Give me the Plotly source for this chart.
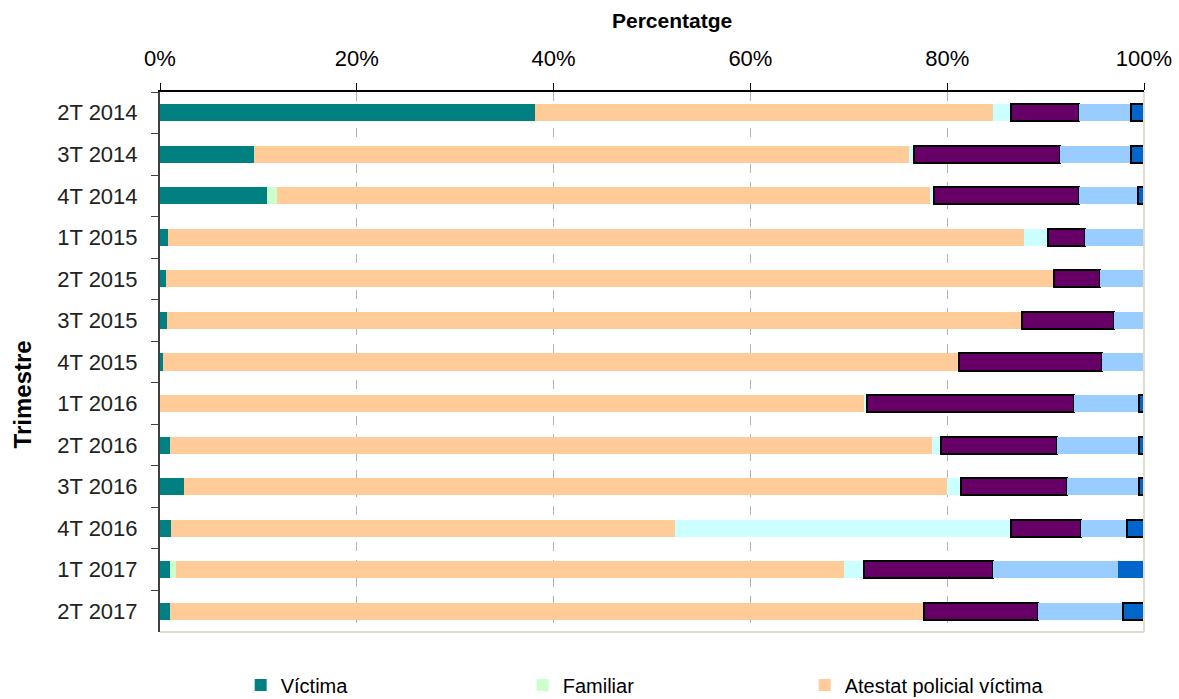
import plotly.graph_objects as go

# trimestres (de dalt a baix)
trimestres = ['2T 2014', '3T 2014', '4T 2014', '1T 2015', '2T 2015', '3T 2015', '4T 2015',
              '1T 2016', '2T 2016', '3T 2016', '4T 2016', '1T 2017', '2T 2017']

# percentatges per origen (llegits del gràfic)
victima = [38.1, 9.6, 10.9, 0.8, 0.6, 0.75, 0.35, 0.0, 1.05, 2.4, 1.15, 1.05, 1.05]
familiar = [0.0, 0.0, 1.0, 0.0, 0.0, 0.0, 0.0, 0.0, 0.0, 0.0, 0.0, 0.55, 0.0]
atestat_victima = [46.6, 66.5, 66.4, 87.0, 90.3, 86.85, 80.85, 71.5, 77.45, 77.6, 51.15, 67.9, 76.55]
atestat_familiar = [1.8, 0.5, 0.4, 2.4, 0.0, 0.0, 0.0, 0.3, 0.9, 1.4, 34.2, 2.0, 0.0]
ofici = [6.9, 14.9, 14.7, 3.8, 4.6, 9.3, 14.5, 21.1, 11.8, 10.8, 7.1, 13.2, 11.6]
altres = [5.3, 7.2, 6.0, 6.0, 4.5, 3.1, 4.3, 6.6, 8.3, 7.3, 4.7, 12.7, 8.7]
desconegut = [1.3, 1.3, 0.6, 0.0, 0.0, 0.0, 0.0, 0.5, 0.5, 0.5, 1.7, 2.6, 2.1]
desconegut_vora = [2, 2, 2, 0, 0, 0, 0, 2, 2, 2, 2, 0, 2]

FONT = 'Liberation Sans, Arial, sans-serif'

# (nom, valors, color, vora, a la llegenda)
series = [
    ('Víctima', victima, '#008080', 0, True),
    ('Familiar', familiar, '#CCFFCC', 0, True),
    ('Atestat policial víctima', atestat_victima, '#FFCC99', 0, True),
    # la resta de la llegenda queda tallada a l'original
    ('Atestat policial familiar', atestat_familiar, '#CCFFFF', 0, False),
    ('Ofici', ofici, '#660066', 2, False),
    ('Altres', altres, '#99CCFF', 0, False),
    ('Desconegut', desconegut, '#0066CC', desconegut_vora, False),
]

fig = go.Figure()
for nom, valors, color, vora, llegenda in series:
    fig.add_trace(go.Bar(
        y=trimestres,
        x=valors,
        name=nom,
        orientation='h',
        marker=dict(color=color, line=dict(color='black', width=vora)),
        showlegend=llegenda,
        hovertemplate='%{y}: %{x:.1f}%<extra>' + nom + '</extra>',
    ))

fig.update_layout(
    barmode='stack',
    bargap=0.59,
    width=1179,
    height=699,
    margin=dict(l=160, r=35, t=92, b=67, autoexpand=False),
    plot_bgcolor='white',
    paper_bgcolor='white',
    font=dict(family=FONT, color='black'),
    xaxis=dict(
        side='top',
        range=[0, 100],
        dtick=20,
        ticksuffix='%',
        tickfont=dict(size=22, family=FONT),
        ticks='outside',
        ticklen=7,
        tickcolor='black',
        ticklabelstandoff=8,
        showline=True,
        linecolor='black',
        linewidth=1.5,
        showgrid=True,
        gridcolor='#B4B4B4',
        griddash='dash',
        gridwidth=1,
        zeroline=False,
        fixedrange=True,
    ),
    yaxis=dict(
        autorange='reversed',
        tickfont=dict(size=22, family=FONT, color='#222222'),
        ticks='outside',
        tickson='boundaries',
        ticklen=7,
        tickcolor='#404040',
        ticklabelstandoff=16,
        showline=True,
        linecolor='#404040',
        linewidth=2,
        showgrid=False,
        fixedrange=True,
    ),
    legend=dict(
        orientation='h',
        x=0.082,
        xanchor='left',
        y=-0.062,
        yanchor='top',
        entrywidth=237,
        entrywidthmode='pixels',
        font=dict(size=20, family=FONT),
        traceorder='normal',
        itemclick=False,
    ),
    showlegend=True,
)

# títols dels eixos
fig.add_annotation(text='<b>Percentatge</b>', xref='paper', yref='paper', x=0.52, y=1,
                   yshift=72, showarrow=False, font=dict(size=21, family=FONT),
                   xanchor='center', yanchor='middle')
fig.add_annotation(text='<b>Trimestre</b>', xref='paper', yref='paper', x=0, y=0.44,
                   xshift=-138, showarrow=False, textangle=-90,
                   font=dict(size=24, family=FONT), xanchor='center', yanchor='middle')

# vora de l'àrea del gràfic (dreta i baix)
fig.add_shape(type='line', xref='paper', yref='paper', x0=0, x1=1, y0=0, y1=0,
              line=dict(color='#E0DCCC', width=2))
fig.add_shape(type='line', xref='paper', yref='paper', x0=1, x1=1, y0=0, y1=1,
              line=dict(color='#E0DCCC', width=2))

fig.write_html('out.html', config={'displayModeBar': False},
               post_script="document.body.style.margin='0';")
